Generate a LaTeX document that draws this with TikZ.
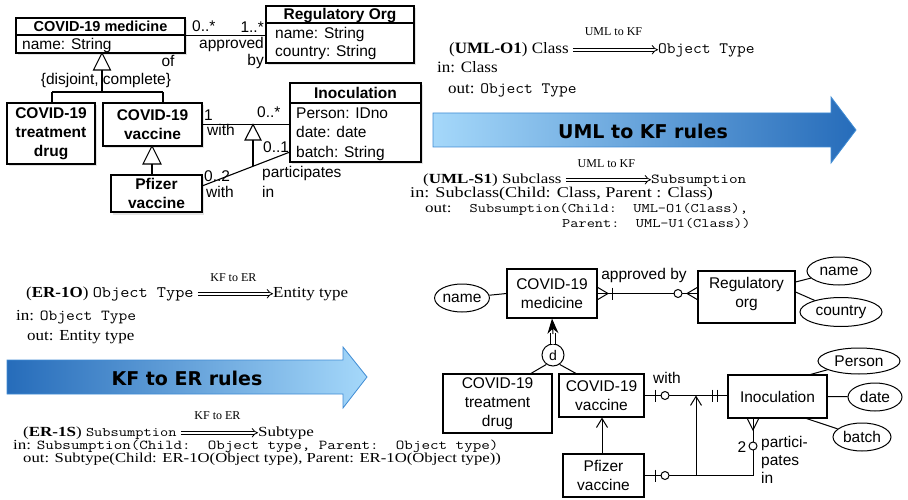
\documentclass[tikz,border=0pt]{standalone}
\usepackage{fontspec}
\setmainfont{Liberation Serif}
\newfontfamily\uifont{Liberation Sans}
\newfontfamily\arfont{DejaVu Sans}
\usetikzlibrary{arrows.meta,shapes.geometric,shadows}
\definecolor{lightb}{RGB}{165,216,250}
\definecolor{darkb}{RGB}{38,108,186}
\definecolor{edgeb}{RGB}{64,140,212}
\newcommand\tx[1]{{\fontsize{16.6}{18}\ttfamily #1}}
\newcommand\txs[2]{{\fontsize{#1}{18}\ttfamily #2}}
\newcommand\sqz[2]{\scalebox{1}[#1]{#2}}
\tikzset{
  ui/.style={font=\uifont\fontsize{15.5}{19}\selectfont, inner sep=0pt},
  uib/.style={font=\uifont\bfseries\fontsize{15.5}{19}\selectfont, inner sep=0pt},
  umlbox/.style={draw, fill=white, line width=1.4pt, inner sep=0pt, align=center, font=\uifont\bfseries\fontsize{15.5}{19}\selectfont,
    drop shadow={opacity=0.22, shadow xshift=2pt, shadow yshift=-2.5pt}},
  erbox/.style={draw, line width=1.1pt, inner sep=0pt, align=center, font=\uifont\fontsize{15.5}{19}\selectfont},
  attr/.style={draw, ellipse, line width=1pt, inner sep=0pt, font=\uifont\fontsize{15.5}{19}\selectfont},
  ruletext/.style={font=\fontsize{17}{20}\selectfont, inner sep=0pt, anchor=base west, text height=12pt, text depth=4.5pt},
  lbl/.style={font=\fontsize{12}{14}\selectfont, inner sep=0pt, anchor=base, midway},
  implies/.style={double, double distance=2.4pt, line width=0.8pt, -{Implies}, shorten <=4pt},
  umlline/.style={line width=1.1pt},
  erline/.style={line width=1pt},
  erarrow/.style={line width=1pt, -{Straight Barb[length=9pt,width=11pt]}},
  bigarrow/.style={draw=edgeb, line width=0.8pt},
  bigtext/.style={font=\arfont\bfseries\fontsize{19}{22}\selectfont, inner sep=0pt}
}
\begin{document}
\begin{tikzpicture}[x=1pt,y=-1pt]
\useasboundingbox (0,0) rectangle (908,500);

% ================= UML diagram =================
\node[umlbox, minimum width=169pt, minimum height=35pt] (med) at (100.5,35.5) {};
\draw[line width=1.4pt] (16,35) -- (185,35);
\node[uib, anchor=base, font=\uifont\bfseries\fontsize{14.5}{18}\selectfont] (medT) at (100.5,31.5) {COVID-19 medicine};
\node[ui, anchor=base west] (medA) at (22,49.5) {name: String};

\node[umlbox, minimum width=148pt, minimum height=57pt] (reg) at (340,34.5) {};
\draw[line width=1.4pt] (266,23) -- (414,23);
\node[uib, anchor=base] (regT) at (340,20) {Regulatory Org};
\node[ui, anchor=base west] (regA1) at (275,38.5) {name: String};
\node[ui, anchor=base west] (regA2) at (275,56.5) {country: String};

\node[umlbox, minimum width=88pt, minimum height=61pt] (drug) at (51,133.5) {COVID-19\\treatment\\drug};
\node[umlbox, minimum width=99pt, minimum height=43pt] (vac) at (152.5,124.5) {COVID-19\\vaccine};
\node[umlbox, minimum width=91pt, minimum height=37pt] (pf) at (156.5,193.5) {Pfizer\\vaccine};

\node[umlbox, minimum width=131pt, minimum height=79pt] (ino) at (355.5,122.5) {};
\draw[line width=1.4pt] (290,103) -- (421,103);
\node[uib, anchor=base] (inoT) at (355.5,98.5) {Inoculation};
\node[ui, anchor=base west] (inoA1) at (296,118.5) {Person: IDno};
\node[ui, anchor=base west] (inoA2) at (296,138) {date: date};
\node[ui, anchor=base west] (inoA3) at (296,157.5) {batch: String};

% generalisations
\draw[umlline, fill=white] (102,53) -- (110.5,70) -- (93.5,70) -- cycle;
\draw[umlline] (102,70) -- (102,92) (52,92) -- (163,92) (52,92) -- (52,103) (163,92) -- (163,103);
\node[ui, anchor=base] (dc) at (106,85) {\{disjoint, complete\}};
\draw[umlline, fill=white] (152,146) -- (161,164) -- (143,164) -- cycle;
\draw[umlline] (152,164) -- (152,175);

% associations
\draw[umlline] (med.east) -- (reg.west |- med.east);
\node[ui, anchor=base west] at (192,31.5) {0..*};
\node[ui, anchor=base east] at (264,33) {1..*};
\node[ui, anchor=base east] at (264,48.5) {approved};
\node[ui, anchor=base east] at (264,65.5) {by};
\node[ui, anchor=base] at (168,67) {of};

\draw[umlline] (vac.east) -- (ino.west |- vac.east);
\coordinate (pfa) at (202,186);
\coordinate (inb) at (290,152);
\draw[umlline] (pfa) -- (inb);
\draw[umlline, fill=white] (253,124.5) -- (261,140) -- (245,140) -- cycle;
\draw[umlline] (253,140) -- (253,166.3);
\node[ui, anchor=base west] at (204,120.5) {1};
\node[ui, anchor=base west] at (207,135.5) {with};
\node[ui, anchor=base west] at (257,117.5) {0..*};
\node[ui, anchor=base west] at (204,181.5) {0..2};
\node[ui, anchor=base west] at (206,197) {with};
\node[ui, anchor=base west] at (263,152.5) {0..1};
\node[ui, anchor=base west] at (262,178) {participates};
\node[ui, anchor=base west] at (262,197.5) {in};

% ================= big arrows =================
\shade[bigarrow, left color=lightb, right color=darkb] (433,113) -- (831,113) -- (831,97) -- (856,130) -- (831,163) -- (831,147) -- (433,147) -- cycle;
\node[bigtext] (a1) at (643,131) {UML to KF rules};
\shade[bigarrow, left color=darkb, right color=lightb] (7,360) -- (343,360) -- (343,347) -- (367,377) -- (343,408) -- (343,394) -- (7,394) -- cycle;
\node[bigtext] (a2) at (187,378) {KF to ER rules};

% ================= rules =================
\node[ruletext] (o1a) at (449,53.5) {\sqz{0.93}{(\textbf{UML-O1}) Class}};
\node[ruletext] (o1b) at (658,53.5) {\sqz{0.93}{\txs{17}{Object Type}}};
\draw[implies] (o1a) -- node[lbl, yshift=14pt]{UML to KF} (o1b);
\node[ruletext] (o1c) at (437,73) {\sqz{0.93}{in: Class}};
\node[ruletext] (o1d) at (448,94) {\sqz{0.93}{out: \txs{17}{Object Type}}};

\node[ruletext] (s1a) at (423,183.5) {\sqz{0.82}{(\textbf{UML-S1}) Subclass}};
\node[ruletext] (s1b) at (651,183.5) {\sqz{0.82}{\txs{16.8}{Subsumption}}};
\draw[implies] (s1a) -- node[lbl, yshift=12.5pt]{UML to KF} (s1b);
\node[ruletext] (s1c) at (410,197.5) {\sqz{0.82}{\fontsize{18.2}{20}\selectfont in: Subclass(Child: Class, Parent : Class)}};
\node[ruletext] (s1d) at (425,212.5) {\sqz{0.82}{out:\hspace{18pt}\txs{15.9}{Subsumption(Child:~~UML-O1(Class),}}};
\node[ruletext] (s1e) at (562,227.5) {\sqz{0.82}{\txs{15.9}{Parent:~~UML-U1(Class))}}};

\node[ruletext] (e1a) at (26,297.5) {\sqz{0.9}{(\textbf{ER-1O}) \txs{17.8}{Object Type}}};
\node[ruletext] (e1b) at (273,297.5) {\sqz{0.9}{Entity type}};
\draw[implies] (e1a) -- node[lbl, yshift=12pt]{KF to ER} (e1b);
\node[ruletext] (e1c) at (16,320) {\sqz{0.9}{in: \txs{17}{Object Type}}};
\node[ruletext] (e1d) at (27,340) {\sqz{0.9}{out: Entity type}};

\node[ruletext] (e2a) at (23,436.5) {\sqz{0.82}{(\textbf{ER-1S}) \txs{16}{Subsumption}}};
\node[ruletext] (e2b) at (258,436.5) {\sqz{0.82}{Subtype}};
\draw[implies] (e2a) -- node[lbl, yshift=13.5pt]{KF to ER} (e2b);
\node[ruletext] (e2c) at (13,449.5) {\sqz{0.82}{in: \txs{16.6}{Subsumption(Child:~~Object type, Parent:~~Object type)}}};
\node[ruletext] (e2d) at (23,462.5) {\sqz{0.82}{\fontsize{16.7}{20}\selectfont out: Subtype(Child: ER-1O(Object type), Parent: ER-1O(Object type))}};

% ================= ER diagram =================
\node[attr, minimum width=54pt, minimum height=28pt] (nameL) at (462,298) {name};
\node[erbox, minimum width=90pt, minimum height=49pt] (emed) at (552,293.5) {COVID-19\\medicine};
\node[erbox, minimum width=97pt, minimum height=52pt] (ereg) at (746.5,297) {};
\node[ui, anchor=base] (eregT1) at (746.5,288.5) {Regulatory};
\node[ui, anchor=base] (eregT2) at (746.5,307.5) {org};
\node[attr, minimum width=64pt, minimum height=28pt] (nameR) at (839,271) {name};
\node[attr, minimum width=82pt, minimum height=29pt] (country) at (841,312) {country};
\draw[erline] (nameL) -- (emed.west);
\draw[erline] ([yshift=15pt]ereg.east) -- (nameR);
\draw[erline] ([yshift=5pt]ereg.east) -- (country);

\draw[erline] (emed.east) -- (ereg.west |- emed.east);
\draw[erline] (597,287) -- (608,293.5) -- (597,300);
\draw[erline] (612,287.5) -- (612,299.5);
\draw[erline, fill=white] (678,293.5) circle (4pt);
\draw[erline] (698,287) -- (687,293.5) -- (698,300);
\node[ui, anchor=base] (appr) at (644,279.5) {approved by};

\node[draw, circle, line width=1pt, minimum size=22pt, inner sep=0pt, font=\uifont\fontsize{14}{16}\selectfont] (d) at (553,355) {d};
\coordinate (dtop) at (553,333);
\draw[line width=0.9pt, double distance=3.5pt] (d) -- (dtop);
\draw[line width=1pt, -{Stealth[length=15pt,width=11pt]}] (553,334) -- (emed.south);

\node[erbox, minimum width=109pt, minimum height=59pt] (edrug) at (497.5,403.5) {COVID-19\\treatment\\drug};
\node[erbox, minimum width=85pt, minimum height=43pt] (evac) at (601.5,395.5) {COVID-19\\vaccine};
\node[erbox, minimum width=81pt, minimum height=43pt] (epf) at (603.5,475.5) {Pfizer\\vaccine};
\node[erbox, minimum width=99pt, minimum height=43pt] (eino) at (777.5,396.5) {Inoculation};
\draw[erline] (d.235) -- (530,374);
\draw[erline] (d.305) -- (577,374);

\draw[erarrow] (epf.north -| 602,0) -- (evac.south -| 602,0);

\node[attr, minimum width=82pt, minimum height=26pt] (person) at (859,361) {Person};
\node[attr, minimum width=54pt, minimum height=28pt] (date) at (875,397) {date};
\node[attr, minimum width=58pt, minimum height=28pt] (batch) at (862,437) {batch};
\draw[erline] ([xshift=-17pt]eino.north east) -- (person);
\draw[erline] (eino.east) -- (date);
\draw[erline] ([xshift=-21pt]eino.south east) -- (batch);

\draw[erline] (evac.east) -- (eino.west |- evac.east);
\draw[erline] (655,389.5) -- (655,401.5);
\draw[erline, fill=white] (665,395.5) circle (4pt);
\draw[erline] (712,389.5) -- (712,401.5) (717,389.5) -- (717,401.5);
\node[ui, anchor=base] (with2) at (667,383.5) {with};

\coordinate (jx) at (696,475.5);
\coordinate (pin) at (753,475.5);
\draw[erline] (epf.east) -- (pin) -- (eino.south -| pin);
\draw[erarrow] (jx) -- (evac.east -| jx);
\draw[erline] (655,469.5) -- (655,481.5);
\draw[erline, fill=white] (665,475.5) circle (4pt);
\draw[erline] (747,418) -- (753,430) -- (759,418);
\draw[erline, fill=white] (753,446) circle (4pt);
\node[ui, anchor=base] (two) at (742,452.5) {2};
\node[ui, anchor=base west] (part1) at (761,447.5) {partici-};
\node[ui, anchor=base west] (part2) at (761,465.5) {pates};
\node[ui, anchor=base west] (part3) at (761,483.5) {in};
\end{tikzpicture}
\end{document}
